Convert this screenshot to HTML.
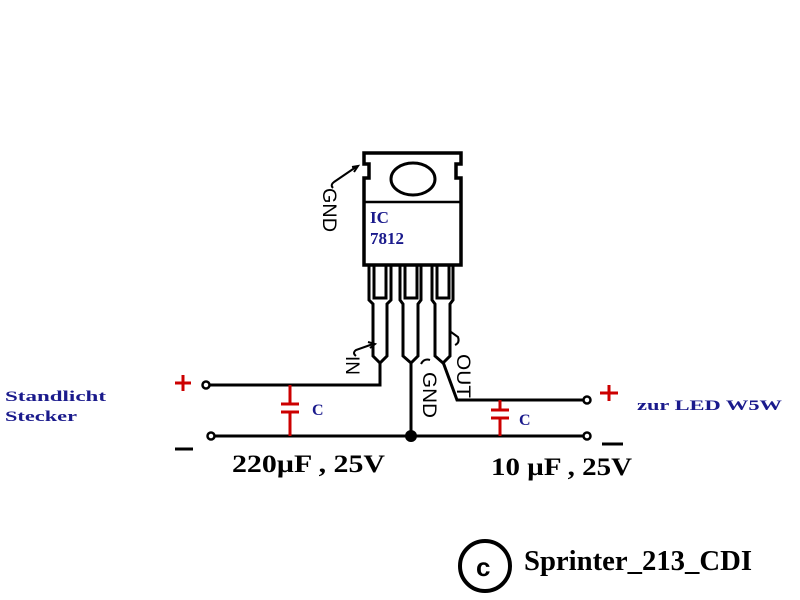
<!DOCTYPE html>
<html><head><meta charset="utf-8"><style>body{margin:0;background:#fff}svg{display:block}</style></head>
<body>
<svg width="800" height="600" viewBox="0 0 800 600" xmlns="http://www.w3.org/2000/svg">
<rect width="800" height="600" fill="#fff"/>
<g fill="none" stroke="#000" stroke-width="3">
<path d="M364 153 H461 V164 H456 V178 H461 V265 H364 V178 H369 V164 H364 Z" stroke-width="3.5"/>
<line x1="364" y1="202" x2="461" y2="202" stroke-width="2.5"/>
<ellipse cx="413" cy="179" rx="22" ry="16"/>
<g stroke-width="3">
<path d="M369 265 V300 L373 304 V356 L380 363 L387 356 V304 L391 300 V265"/>
<path d="M374 265 V298 H386 V265"/>
<path d="M400 265 V300 L403 304 V356 L411 363 L418 356 V304 L421 300 V265"/>
<path d="M405 265 V298 H417 V265"/>
<path d="M432 265 V300 L435 304 V356 L443 363 L450 356 V304 L453 300 V265"/>
<path d="M437 265 V298 H449 V265"/>
</g>
<g stroke-width="3">
<polyline points="208,385 380,385 380,362"/>
<line x1="212" y1="436" x2="586" y2="436"/>
<line x1="411" y1="362" x2="411" y2="436"/>
<polyline points="443,362 457,400 584,400"/>
</g>
<g stroke-width="2.5">
<circle cx="206" cy="385" r="3.5" fill="#fff"/>
<circle cx="211" cy="436" r="3.5" fill="#fff"/>
<circle cx="587" cy="400" r="3.5" fill="#fff"/>
<circle cx="587" cy="436" r="3.5" fill="#fff"/>
</g>
<g stroke-width="2">
<path d="M333 188 Q330 185 334 182 L356 167"/><path d="M352 167 L358 166 L354 172"/>
<path d="M356 356 Q352 353 356 350 L373 344"/><path d="M368 342 L375 344 L370 348"/>
<path d="M421 364 Q424 358 430 360"/>
<path d="M455 345 Q460 343 458 337 L451 332"/>
</g>
<g stroke="#c00" stroke-width="3">
<line x1="290" y1="385" x2="290" y2="404"/><line x1="290" y1="412" x2="290" y2="436"/>
<line x1="281" y1="404" x2="299" y2="404"/><line x1="281" y1="412" x2="299" y2="412"/>
<line x1="500" y1="400" x2="500" y2="410"/><line x1="500" y1="418" x2="500" y2="436"/>
<line x1="491" y1="410" x2="509" y2="410"/><line x1="491" y1="418" x2="509" y2="418"/>
</g>
<circle cx="485" cy="566" r="25" stroke-width="4"/>
</g>
<circle cx="411" cy="436" r="6" fill="#000"/>
<g font-family="Liberation Sans, sans-serif" font-size="19" fill="#000">
<text transform="translate(323,188) rotate(90)" textLength="44" lengthAdjust="spacingAndGlyphs">GND</text>
<text transform="translate(346,356) rotate(90)">IN</text>
<text transform="translate(423,372) rotate(90)" textLength="46" lengthAdjust="spacingAndGlyphs">GND</text>
<text transform="translate(457,354) rotate(90)" textLength="44" lengthAdjust="spacingAndGlyphs">OUT</text>
</g>
<g font-family="Liberation Serif, serif" font-weight="bold" fill="#1a1a8c">
<text x="370" y="223" font-size="17">IC</text>
<text x="370" y="244" font-size="17">7812</text>
<text x="5" y="401" font-size="15" textLength="101" lengthAdjust="spacingAndGlyphs">Standlicht</text>
<text x="5" y="421" font-size="15" textLength="72" lengthAdjust="spacingAndGlyphs">Stecker</text>
<text x="637" y="410" font-size="15" textLength="145" lengthAdjust="spacingAndGlyphs">zur LED W5W</text>
<text x="312" y="415" font-size="16">C</text>
<text x="519" y="425" font-size="16">C</text>
</g>
<g fill="#c00" stroke="#c00" stroke-width="3">
<line x1="175" y1="383" x2="191" y2="383"/><line x1="183" y1="375" x2="183" y2="391"/>
<line x1="600" y1="393" x2="618" y2="393"/><line x1="609" y1="385" x2="609" y2="401"/>
</g>
<g stroke="#000" stroke-width="3">
<line x1="175" y1="449" x2="193" y2="449"/>
<line x1="602" y1="444" x2="623" y2="444"/>
</g>
<g font-family="Liberation Serif, serif" font-weight="bold" fill="#000">
<text x="232" y="472" font-size="25" textLength="153" lengthAdjust="spacingAndGlyphs">220µF , 25V</text>
<text x="491" y="475" font-size="25" textLength="141" lengthAdjust="spacingAndGlyphs">10 µF , 25V</text>
<text x="524" y="570" font-size="28" textLength="228" lengthAdjust="spacingAndGlyphs">Sprinter_213_CDI</text>
<text x="476" y="576" font-size="26" font-family="Liberation Sans, sans-serif">c</text>
</g>
</svg>
</body></html>
